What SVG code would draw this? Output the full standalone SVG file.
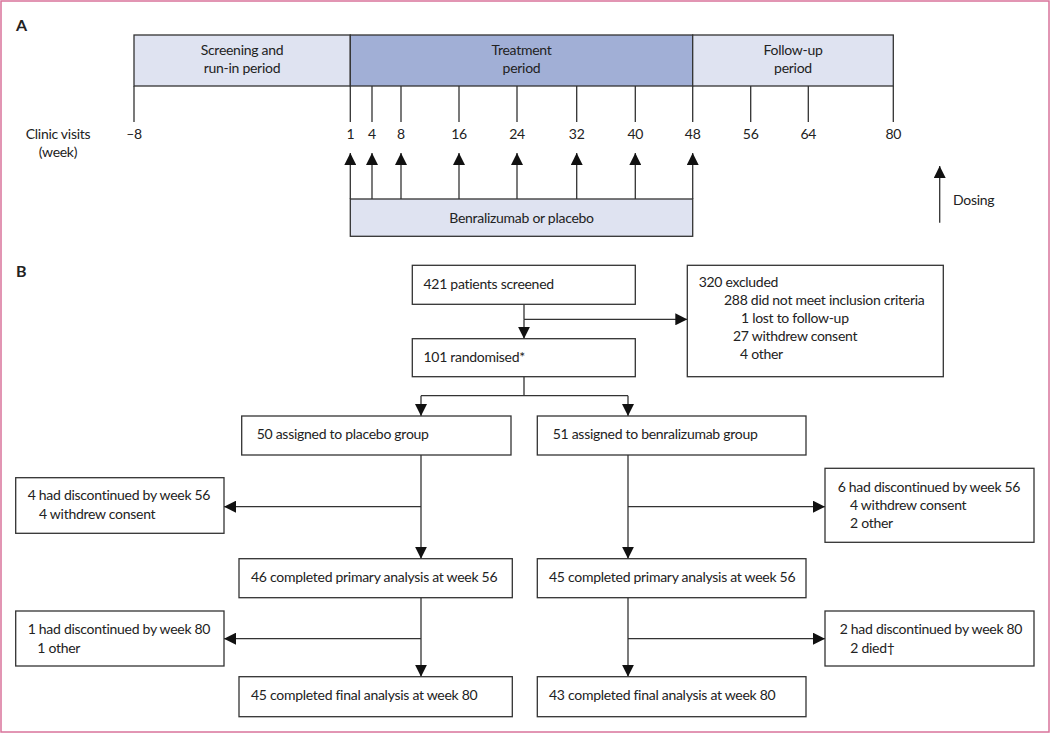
<svg xmlns="http://www.w3.org/2000/svg" width="1050" height="733" viewBox="0 0 1050 733">
<style>
text{font-family:Lato,"Open Sans","Liberation Sans",sans-serif;font-size:14px;fill:#222;letter-spacing:-0.28px}
.lbl{font-weight:bold;font-size:16px;letter-spacing:0}
.mid{text-anchor:middle}
.box{fill:#fff;stroke:#333;stroke-width:1.3}
.lt{fill:#dfe3f1;stroke:#333;stroke-width:1.3}
.dk{fill:#a1afd6;stroke:#333;stroke-width:1.3}
.ln{fill:none;stroke:#333;stroke-width:1.3}
.ar{fill:none;stroke:#333;stroke-width:1.3;marker-end:url(#ah)}
</style>
<defs>
<marker id="ah" markerUnits="userSpaceOnUse" markerWidth="12" markerHeight="12" viewBox="0 0 10 10" refX="10" refY="5" orient="auto">
<path d="M0,0 L10,5 L0,10 Z" fill="#111"/>
</marker>
</defs>
<rect x="1" y="1" width="1048" height="731" fill="#fff" stroke="#d9739b" stroke-width="1.5"/>

<g id="panelA">
<text class="lbl" x="16" y="31">A</text>
<g id="screening">
<rect class="lt" x="134" y="35" width="216.3" height="51"/>
<text class="mid" x="242" y="55">Screening and</text>
<text class="mid" x="242" y="73">run-in period</text>
</g>
<g id="treatment">
<rect class="dk" x="350.3" y="35" width="342.4" height="51"/>
<text class="mid" x="521.5" y="55">Treatment</text>
<text class="mid" x="521.5" y="73">period</text>
</g>
<g id="followup">
<rect class="lt" x="692.7" y="35" width="200.6" height="51"/>
<text class="mid" x="793" y="55">Follow-up</text>
<text class="mid" x="793" y="73">period</text>
</g>
<g id="ticks">
<path class="ln" d="M134,86V122 M350.3,86V122 M372,86V122 M401,86V122 M459,86V122 M517,86V122 M576.7,86V122 M635.3,86V122 M692.7,86V122 M750.7,86V122 M808.3,86V122 M893.3,86V122"/>
<text class="mid" x="134" y="139">–8</text>
<text class="mid" x="350.3" y="139">1</text>
<text class="mid" x="372" y="139">4</text>
<text class="mid" x="401" y="139">8</text>
<text class="mid" x="459" y="139">16</text>
<text class="mid" x="517" y="139">24</text>
<text class="mid" x="576.7" y="139">32</text>
<text class="mid" x="635.3" y="139">40</text>
<text class="mid" x="692.7" y="139">48</text>
<text class="mid" x="750.7" y="139">56</text>
<text class="mid" x="808.3" y="139">64</text>
<text class="mid" x="893.3" y="139">80</text>
</g>
<g id="clinicvisits">
<text class="mid" x="58" y="139">Clinic visits</text>
<text class="mid" x="58" y="157">(week)</text>
</g>
<g id="dosing-arrows">
<path class="ar" d="M350.3,199V153"/>
<path class="ar" d="M372,199V153"/>
<path class="ar" d="M401,199V153"/>
<path class="ar" d="M459,199V153"/>
<path class="ar" d="M517,199V153"/>
<path class="ar" d="M576.7,199V153"/>
<path class="ar" d="M635.3,199V153"/>
<path class="ar" d="M692.7,199V153"/>
</g>
<g id="benra-box">
<rect class="lt" x="350.3" y="199" width="342.4" height="37.3"/>
<text class="mid" x="521.5" y="223">Benralizumab or placebo</text>
</g>
<g id="legend">
<path class="ar" d="M939.7,222.7V166"/>
<text x="953" y="205">Dosing</text>
</g>
</g>

<g id="panelB">
<text class="lbl" x="16" y="277">B</text>
</g>

<g id="connectors">
<path class="ln" d="M524,304.3V319.3"/>
<path class="ar" d="M524,319.3H687.3"/>
<path class="ar" d="M524,319.3V338.7"/>
<path class="ln" d="M524,376.7V395.7 M421,395.7H628"/>
<path class="ar" d="M421,395.7V416"/>
<path class="ar" d="M628,395.7V416"/>
<path class="ar" d="M421,455V558.7"/>
<path class="ar" d="M421,506.7H224"/>
<path class="ar" d="M628,455V558.7"/>
<path class="ar" d="M628,506.7H825"/>
<path class="ar" d="M421,597.7V676.7"/>
<path class="ar" d="M421,638.7H224"/>
<path class="ar" d="M628,597.7V676.7"/>
<path class="ar" d="M628,638.7H825"/>
</g>

<g id="screened">
<rect class="box" x="412.3" y="265.3" width="223" height="39"/>
<text x="423.5" y="288.5">421 patients screened</text>
</g>
<g id="excluded">
<rect class="box" x="687.3" y="265.3" width="256" height="111.4"/>
<text x="698.7" y="287">320 excluded</text>
<text x="724" y="305">288 did not meet inclusion criteria</text>
<text x="741" y="323">1 lost to follow-up</text>
<text x="733" y="341">27 withdrew consent</text>
<text x="740" y="359">4 other</text>
</g>
<g id="randomised">
<rect class="box" x="412.3" y="338.7" width="223" height="38"/>
<text x="423.5" y="362">101 randomised*</text>
</g>
<g id="placebo">
<rect class="box" x="241.7" y="416" width="269.3" height="39"/>
<text x="256.7" y="439">50 assigned to placebo group</text>
</g>
<g id="benralizumab">
<rect class="box" x="537.3" y="416" width="268.7" height="39"/>
<text x="552.7" y="439">51 assigned to benralizumab group</text>
</g>
<g id="disc56-placebo">
<rect class="box" x="15.7" y="477.7" width="208.3" height="55.6"/>
<text x="27.7" y="500">4 had discontinued by week 56</text>
<text x="39" y="518.5">4 withdrew consent</text>
</g>
<g id="disc56-benra">
<rect class="box" x="825" y="468.3" width="209" height="74"/>
<text x="837.7" y="491.5">6 had discontinued by week 56</text>
<text x="850" y="509.5">4 withdrew consent</text>
<text x="850" y="527.5">2 other</text>
</g>
<g id="primary-placebo">
<rect class="box" x="239" y="558.7" width="273.3" height="39"/>
<text x="251" y="582">46 completed primary analysis at week 56</text>
</g>
<g id="primary-benra">
<rect class="box" x="537.3" y="558.7" width="268.7" height="39"/>
<text x="549" y="582">45 completed primary analysis at week 56</text>
</g>
<g id="disc80-placebo">
<rect class="box" x="15.7" y="611" width="208.3" height="55"/>
<text x="27.7" y="634">1 had discontinued by week 80</text>
<text x="37.3" y="652.7">1 other</text>
</g>
<g id="disc80-benra">
<rect class="box" x="825" y="611" width="209" height="55"/>
<text x="839.7" y="634">2 had discontinued by week 80</text>
<text x="850.3" y="652.7">2 died†</text>
</g>
<g id="final-placebo">
<rect class="box" x="239" y="676.7" width="273.3" height="40"/>
<text x="251" y="700">45 completed final analysis at week 80</text>
</g>
<g id="final-benra">
<rect class="box" x="537.3" y="676.7" width="268.7" height="40"/>
<text x="549" y="700">43 completed final analysis at week 80</text>
</g>
</svg>
